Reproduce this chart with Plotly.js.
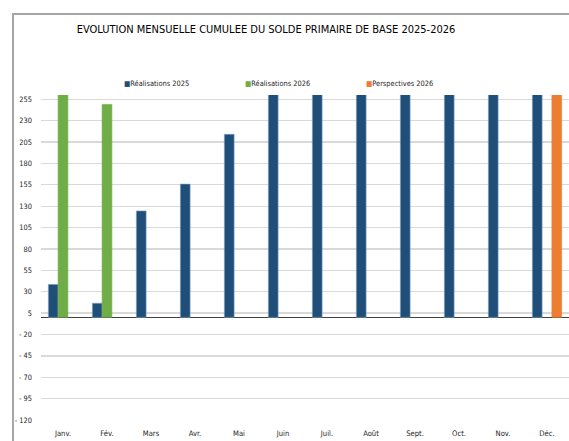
<!DOCTYPE html>
<html>
<head>
<meta charset="utf-8">
<script src="https://cdn.plot.ly/plotly-3.0.1.min.js"></script>
<style>
html,body{margin:0;padding:0;background:#fff;}
#wrap{position:relative;width:569px;height:441px;overflow:hidden;}
#chart{position:absolute;left:0;top:0;width:569px;height:441px;}
#frame{position:absolute;left:12px;top:13px;width:600px;height:500px;border-left:2px solid #a6a6a6;border-top:2px solid #a6a6a6;pointer-events:none;}
</style>
</head>
<body>
<div id="wrap"><div id="chart"></div><div id="frame"></div></div>
<script>
const months = ["Janv.","Fév.","Mars","Avr.","Mai","Juin","Juil.","Août","Sept.","Oct.","Nov.","Déc."];
const real2025 = [38.5, 16.5, 124.5, 155.8, 214, 285, 300, 315, 330, 345, 360, 380];
const real2026 = [275, 249, null, null, null, null, null, null, null, null, null, null];
const persp2026 = [null, null, null, null, null, null, null, null, null, null, null, 390];
const yTickVals = [255, 230, 205, 180, 155, 130, 105, 80, 55, 30, 5, -20, -45, -70, -95, -120];
const yTickText = ["255","230","205","180","155","130","105","80","55","30","5","- 20","- 45","- 70","- 95","- 120"];
const seriesNames = ["Réalisations 2025", "Réalisations 2026", "Perspectives 2026"];
const colors = ["#1f4e79", "#70ad47", "#ed7d31"];

const FONT = "'DejaVu Sans Condensed', 'Liberation Sans Narrow', sans-serif";

const traces = [real2025, real2026, persp2026].map((vals, i) => ({
  type: "bar",
  x: months,
  y: vals,
  name: seriesNames[i],
  marker: {color: colors[i], line: {color: i === 0 ? "#7f9fbf" : colors[i], width: 0.6}},
  showlegend: false,
  hoverinfo: "x+y+name"
}));

const legendX = [122, 243, 364];
const annotations = seriesNames.map((n, i) => ({
  xref: "paper", yref: "paper",
  x: (legendX[i] - 41) / 528, y: (441 - 83 - 21) / 325,
  xanchor: "left", yanchor: "middle",
  text: '<span style="color:' + colors[i] + '">■</span>' + n,
  showarrow: false,
  font: {family: FONT, size: 7.4, color: "#262626"}
}));

const layout = {
  width: 569, height: 441,
  margin: {l: 41, r: 0, t: 95, b: 21},
  paper_bgcolor: "#ffffff",
  plot_bgcolor: "#ffffff",
  barmode: "group",
  bargap: 0.335,
  bargroupgap: 0,
  title: {
    text: "EVOLUTION MENSUELLE CUMULEE DU SOLDE PRIMAIRE DE BASE 2025-2026",
    xref: "container", yref: "container",
    x: 266 / 569, y: 1 - 29 / 441,
    xanchor: "center", yanchor: "middle",
    font: {family: FONT, size: 11, color: "#000000"}
  },
  xaxis: {
    type: "category",
    showgrid: false,
    zeroline: false,
    showline: false,
    ticks: "",
    tickfont: {family: FONT, size: 7.6, color: "#262626"},
    ticklabelstandoff: 7
  },
  yaxis: {
    range: [-120, 260],
    tickvals: yTickVals,
    ticktext: yTickText,
    showgrid: true,
    gridcolor: "#d9d9d9",
    gridwidth: 1.3,
    zeroline: true,
    zerolinecolor: "#404040",
    zerolinewidth: 1.5,
    showline: false,
    ticks: "",
    tickfont: {family: FONT, size: 7.4, color: "#262626"},
    ticklabelstandoff: 8
  },
  annotations: annotations,
  showlegend: false
};

Plotly.newPlot("chart", traces, layout, {displayModeBar: false, staticPlot: true});
</script>
</body>
</html>
